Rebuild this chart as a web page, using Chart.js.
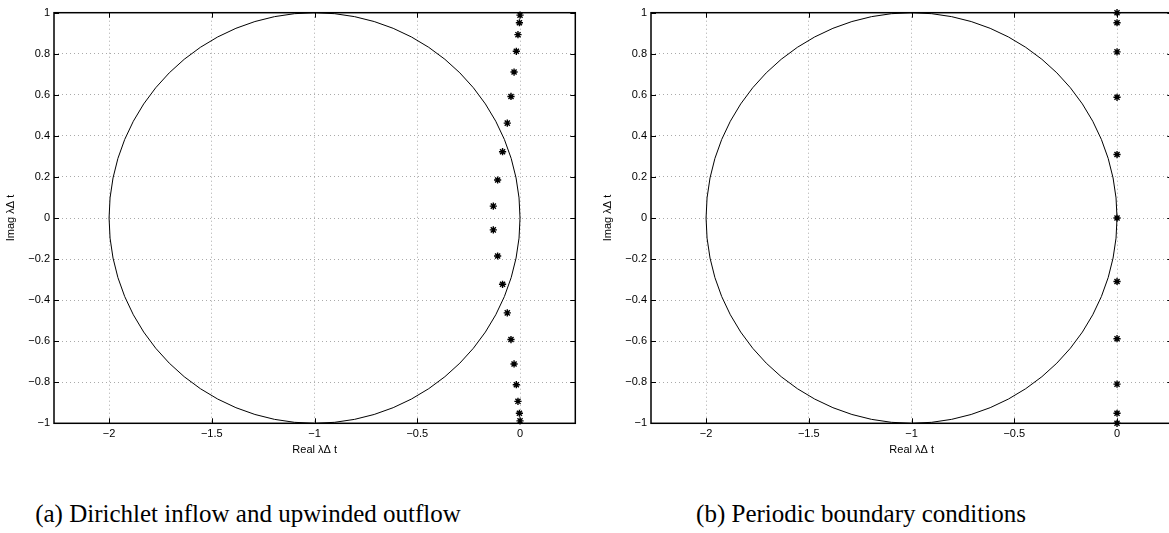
<!DOCTYPE html>
<html>
<head>
<meta charset="utf-8">
<script src="https://cdn.jsdelivr.net/npm/chart.js@4.4.0/dist/chart.umd.min.js"></script>
<style>
  body { margin: 0; width: 1169px; height: 533px; overflow: hidden; background: #fff; position: relative; }
  .plot { position: absolute; top: 0; width: 600px; height: 460px; }
  .caption { position: absolute; top: 500px; font-family: "Liberation Serif", "DejaVu Serif", serif; font-size: 25px; color: #000; white-space: nowrap; transform: translateX(-50%); }
</style>
</head>
<body>
<div class="plot" style="left:0"><canvas id="chartA" width="600" height="460"></canvas></div>
<div class="plot" style="left:597px"><canvas id="chartB" width="600" height="460"></canvas></div>
<div class="caption" style="left:248px">(a) Dirichlet inflow and upwinded outflow</div>
<div class="caption" style="left:861px">(b) Periodic boundary conditions</div>
<script>
// axis limits and ticks
var xLimits = [-2.268, 0.269];
var yLimits = [-1, 1];
var xTicks = [-2, -1.5, -1, -0.5, 0];
var yTicks = [-1, -0.8, -0.6, -0.4, -0.2, 0, 0.2, 0.4, 0.6, 0.8, 1];

// stability circle |1 + z| = 1
var circleCenter = [-1, 0];
var circleRadius = 1;

// (a) Dirichlet inflow, upwinded outflow
var dirichletReal = [0, -0.003, -0.010, -0.018, -0.029, -0.044, -0.062, -0.085, -0.109, -0.130,
                     -0.130, -0.109, -0.085, -0.062, -0.044, -0.029, -0.018, -0.010, -0.003, 0];
var dirichletImag = [0.988, 0.951, 0.893, 0.812, 0.711, 0.592, 0.462, 0.323, 0.185, 0.058,
                     -0.058, -0.185, -0.323, -0.462, -0.592, -0.711, -0.812, -0.893, -0.951, -0.988];

// (b) periodic boundary conditions
var periodicReal = [0, 0, 0, 0, 0, 0, 0, 0, 0, 0, 0];
var periodicImag = [1, 0.951, 0.809, 0.588, 0.309, 0, -0.309, -0.588, -0.809, -0.951, -1];

function fmt(v) {
    if (v === 0) return '0';
    return String(v).replace('-', '\u2212');
}

var axesPlugin = {
    id: 'axesBox',
    beforeDatasetsDraw: function (chart) {
        var ctx = chart.ctx, xs = chart.scales.x, ys = chart.scales.y, a = chart.chartArea;
        var cx = xs.getPixelForValue(circleCenter[0]);
        var cy = ys.getPixelForValue(circleCenter[1]);
        var rx = Math.abs(xs.getPixelForValue(circleCenter[0] + circleRadius) - cx);
        var ry = Math.abs(ys.getPixelForValue(circleCenter[1] + circleRadius) - cy);
        ctx.save();
        ctx.beginPath();
        ctx.rect(a.left, a.top, a.right - a.left, a.bottom - a.top);
        ctx.clip();
        ctx.beginPath();
        ctx.ellipse(cx, cy, rx, ry, 0, 0, Math.PI * 2);
        ctx.strokeStyle = '#000';
        ctx.lineWidth = 1;
        ctx.stroke();
        ctx.restore();
    },
    afterDraw: function (chart) {
        var ctx = chart.ctx, xs = chart.scales.x, ys = chart.scales.y, a = chart.chartArea;
        var len = 5;
        ctx.save();
        ctx.strokeStyle = '#000';
        ctx.lineWidth = 1;
        ctx.beginPath();
        xTicks.forEach(function (t) {
            var px = Math.round(xs.getPixelForValue(t)) + 0.5;
            ctx.moveTo(px, a.bottom); ctx.lineTo(px, a.bottom - len);
            ctx.moveTo(px, a.top); ctx.lineTo(px, a.top + len);
        });
        yTicks.forEach(function (t) {
            var py = Math.round(ys.getPixelForValue(t)) + 0.5;
            ctx.moveTo(a.left, py); ctx.lineTo(a.left + len, py);
            ctx.moveTo(a.right, py); ctx.lineTo(a.right - len, py);
        });
        ctx.stroke();
        ctx.lineWidth = 1.5;
        ctx.strokeRect(a.left, a.top, a.right - a.left, a.bottom - a.top);
        ctx.restore();
    }
};

function makeChart(id, re, im) {
    var pts = re.map(function (r, i) { return { x: r, y: im[i] }; });
    var tickFont = { family: 'Liberation Sans, Arial, sans-serif', size: 11 };
    return new Chart(document.getElementById(id), {
        type: 'scatter',
        data: {
            datasets: [{
                data: pts,
                pointStyle: 'star',
                pointRadius: 3.6,
                pointBorderWidth: 1.4,
                borderColor: '#000',
                backgroundColor: '#000',
                clip: false
            }]
        },
        options: {
            responsive: false,
            animation: false,
            layout: { padding: { top: 12.7, right: 24.7, left: 0, bottom: 0 } },
            plugins: { legend: { display: false }, tooltip: { enabled: false } },
            scales: {
                x: {
                    type: 'linear',
                    min: xLimits[0],
                    max: xLimits[1],
                    afterBuildTicks: function (s) { s.ticks = xTicks.map(function (v) { return { value: v }; }); },
                    afterFit: function (s) { s.height = 36.7; },
                    ticks: { callback: fmt, color: '#000', font: tickFont, padding: 4, maxRotation: 0, autoSkip: false },
                    grid: { color: '#aaa', lineWidth: 1, drawTicks: false },
                    border: { display: false, dash: [1, 3] },
                    title: { display: true, text: 'Real \u03bb\u0394 t', color: '#000', font: tickFont, padding: { top: 0, bottom: 3 } }
                },
                y: {
                    type: 'linear',
                    min: yLimits[0],
                    max: yLimits[1],
                    afterBuildTicks: function (s) { s.ticks = yTicks.map(function (v) { return { value: v }; }); },
                    afterFit: function (s) { s.width = 54; },
                    ticks: { callback: fmt, color: '#000', font: tickFont, padding: 4, autoSkip: false },
                    grid: { color: '#aaa', lineWidth: 1, drawTicks: false },
                    border: { display: false, dash: [1, 3] },
                    title: { display: true, text: 'Imag \u03bb\u0394 t', color: '#000', font: tickFont, padding: { top: 4, bottom: 0 } }
                }
            }
        },
        plugins: [axesPlugin]
    });
}

makeChart('chartA', dirichletReal, dirichletImag);
makeChart('chartB', periodicReal, periodicImag);
</script>
</body>
</html>
